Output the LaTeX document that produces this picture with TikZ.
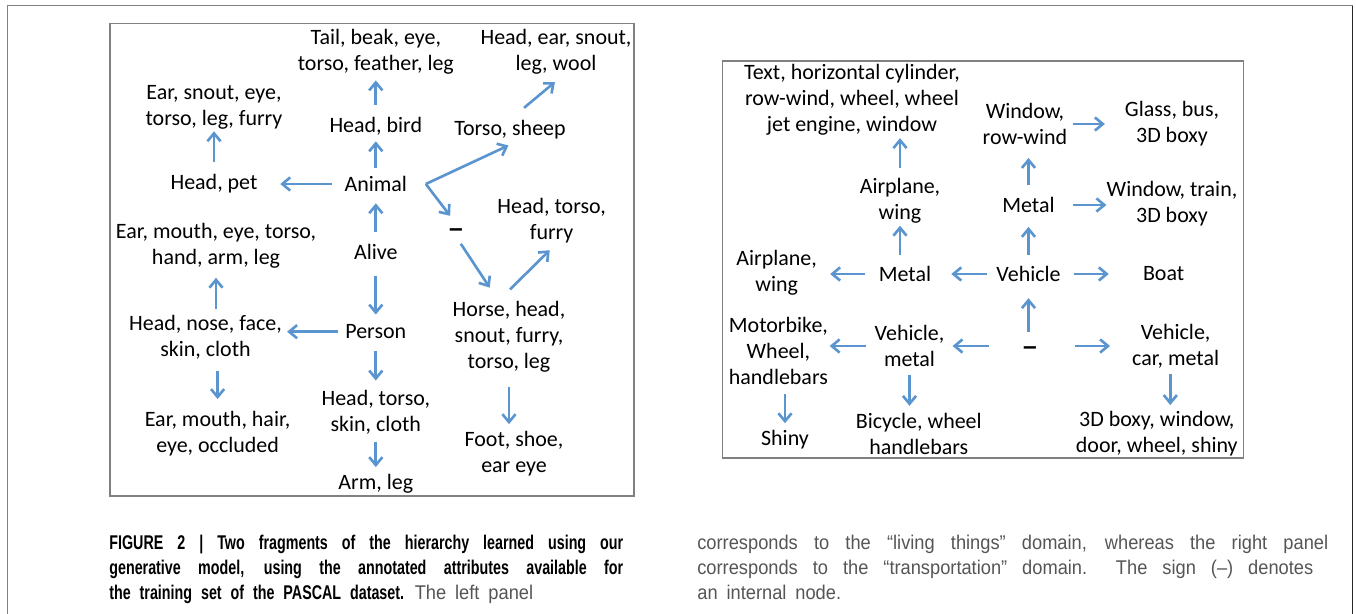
\documentclass[tikz,border=0pt]{standalone}
\usepackage{fontspec}
\setmainfont{Carlito}
\newfontfamily\capfont[FakeStretch=0.92, BoldFeatures={FakeStretch=0.72}]{Liberation Sans}
\newfontfamily\signfont{Liberation Sans}
\usepackage{xcolor}
\usetikzlibrary{arrows.meta}

\definecolor{linkblue}{RGB}{91,149,207}
\definecolor{framegray}{RGB}{128,128,128}
\definecolor{capgray}{RGB}{85,85,85}

\newcommand{\widespaces}{\spaceskip=0.45em plus 0.6em minus 0.05em\relax}

\begin{document}
\begin{tikzpicture}[x=0.02cm, y=-0.02cm,
    attr/.style={align=center, inner sep=0pt, font=\fontsize{12.5}{14.7}\selectfont},
    internal/.style={inner sep=0pt, text height=0.7em, text depth=0pt, font=\signfont\bfseries\fontsize{14}{14}\selectfont},
    link/.style={draw=linkblue, line width=1.5pt, -{Straight Barb[length=4.5pt,width=7.5pt]}, shorten <=6pt, shorten >=4pt},
    panel/.style={draw=framegray, line width=0.9pt},
    caption/.style={inner sep=0pt, anchor=base west, align=justify, font=\fontsize{11.3}{14.2}\selectfont\capfont}]
    \useasboundingbox (0,0) rectangle (1356,614);

    % Page frame
    \draw[framegray, line width=0.6pt] (7.3,614) -- (7.3,5.7) -- (1352.7,5.7);
    \draw[black!85, line width=0.8pt] (1352.7,5.7) -- (1352.7,614);

    % Left panel: living things
    \draw[panel] (110,23.5) rectangle (634,496);

    \node[attr] (tail) at (375.8,51.5) {Tail, beak, eye,\\torso, feather, leg};
    \node[attr] (woolparts) at (556,51.5) {Head, ear, snout,\\leg, wool};
    \node[attr] (petparts) at (214,107) {Ear, snout, eye,\\torso, leg, furry};
    \node[attr] (bird) at (375.8,126.7) {Head, bird};
    \node[attr] (sheep) at (510,129.3) {Torso, sheep};
    \node[attr] (pet) at (214,184) {Head, pet};
    \node[attr] (animal) at (375.8,184) {Animal};
    \node[internal] (inner1) at (456,230) {–};
    \node[attr] (furry) at (551.6,220.5) {Head, torso,\\furry};
    \node[attr] (hand) at (216,245.5) {Ear, mouth, eye, torso,\\hand, arm, leg};
    \node[attr] (alive) at (375.8,252) {Alive};
    \node[attr] (face) at (205.5,337) {Head, nose, face,\\skin, cloth};
    \node[attr] (person) at (375.8,331.7) {Person};
    \node[attr] (horse) at (509,336.5) {Horse, head,\\snout, furry,\\torso, leg};
    \node[attr] (skin) at (375.8,412.5) {Head, torso,\\skin, cloth};
    \node[attr] (hair) at (217.6,434) {Ear, mouth, hair,\\eye, occluded};
    \node[attr] (foot) at (514,454) {Foot, shoe,\\ear eye};
    \node[attr] (armleg) at (375.8,483.3) {Arm, leg};

    % Draw connections
    \draw[link, shorten <=7pt, shorten >=3.5pt] (bird) -- (tail);
    \draw[link, shorten <=7pt, shorten >=1.2pt] (pet) -- (petparts);
    \draw[link, shorten <=4.7pt, shorten >=3pt] (animal) -- (bird);
    \draw[link, shorten <=7pt, shorten >=6.4pt] (alive) -- (animal);
    \draw[link, shorten <=7pt, shorten >=12.8pt] (animal) -- (pet);
    \draw[link, shorten <=0pt, shorten >=8.7pt] ([xshift=10.5pt]animal.east) -- ([xshift=7pt]sheep.south);
    \draw[link, shorten <=0pt, shorten >=5.5pt] ([xshift=10.5pt]animal.east) -- (inner1.north);
    \draw[link, shorten <=10.4pt, shorten >=6.9pt] (sheep.north) -- ([xshift=4.7pt]woolparts.south);
    \draw[link, shorten <=5pt, shorten >=9pt] (inner1.south) -- ([xshift=-6pt]horse.north);
    \draw[link, shorten <=9.2pt, shorten >=5.7pt] ([xshift=-6pt]horse.north) -- ([xshift=3pt]furry.south);
    \draw[link, shorten <=9.2pt, shorten >=5.5pt] (alive) -- (person);
    \draw[link, shorten <=3.9pt, shorten >=2.8pt] (person.west) -- (person.west -| face.east);
    \draw[link, shorten <=3.2pt, shorten >=5.4pt] (face.north -| hand.south) -- (hand.south);
    \draw[link, shorten <=6.8pt, shorten >=7pt] (face.south -| hair.north) -- (hair.north);
    \draw[link, shorten <=7pt, shorten >=5.5pt] (person) -- (skin);
    \draw[link, shorten <=8.2pt, shorten >=4.1pt] (horse.south) -- (horse.south |- foot.north);
    \draw[link, shorten <=4pt, shorten >=3.6pt] (skin) -- (armleg);

    % Right panel: transportation
    \draw[panel] (722.5,61) rectangle (1243.5,458);

    \node[attr] (cylinder) at (852,100) {Text, horizontal cylinder,\\row-wind, wheel, wheel\\jet engine, window};
    \node[attr] (window) at (1025,124) {Window,\\row-wind};
    \node[attr] (glass) at (1172,124) {Glass, bus,\\3D boxy};
    \node[attr] (plane) at (900,200.5) {Airplane,\\wing};
    \node[attr] (metalB) at (1028.5,205) {Metal};
    \node[attr] (train) at (1172,204) {Window, train,\\3D boxy};
    \node[attr] (planeB) at (776.6,273) {Airplane,\\wing};
    \node[attr] (metal) at (905,274) {Metal};
    \node[attr] (vehicle) at (1028.5,274) {Vehicle};
    \node[attr] (boat) at (1163.6,274) {Boat};
    \node[attr] (motorbike) at (778.4,351) {Motorbike,\\Wheel,\\handlebars};
    \node[attr] (vmetal) at (909.5,346) {Vehicle,\\metal};
    \node[internal] (inner2) at (1030,348) {–};
    \node[attr] (car) at (1175.6,346) {Vehicle,\\car, metal};
    \node[attr] (shiny) at (785,440) {Shiny};
    \node[attr] (bicycle) at (918.8,434) {Bicycle, wheel\\handlebars};
    \node[attr] (boxy) at (1156.8,434) {3D boxy, window,\\door, wheel, shiny};

    % Draw connections
    \draw[link, shorten <=5.3pt, shorten >=1.4pt] (plane.north) -- (plane.north |- cylinder.south);
    \draw[link, shorten <=7pt, shorten >=7.4pt] (metalB.north) -- (metalB.north |- window.south);
    \draw[link, shorten <=2.9pt, shorten >=11.2pt] (window) -- (glass);
    \draw[link, shorten <=10.5pt, shorten >=0pt] (metalB.east) -- (metalB.east -| train.west);
    \draw[link, shorten <=6.4pt, shorten >=1.4pt] (metal.north -| plane.south) -- (plane.south);
    \draw[link, shorten <=6.4pt, shorten >=7.9pt] (vehicle) -- (metalB);
    \draw[link, shorten <=7.7pt, shorten >=7.4pt] (metal.west) -- (metal.west -| planeB.east);
    \draw[link, shorten <=5.4pt, shorten >=11.3pt] (vehicle) -- (metal);
    \draw[link, shorten <=7.2pt, shorten >=19.3pt] (vehicle) -- (boat);
    \draw[link, shorten <=5.6pt, shorten >=9.2pt] (inner2.north -| vehicle.south) -- (vehicle.south);
    \draw[link, shorten <=19.3pt, shorten >=4.5pt] (vmetal.east -| inner2.west) -- (vmetal.east);
    \draw[link, shorten <=21.6pt, shorten >=12.4pt] (car.west -| inner2.east) -- (car.west);
    \draw[link, shorten <=5pt, shorten >=0.8pt] (vmetal.west) -- (vmetal.west -| motorbike.east);
    \draw[link, shorten <=4.4pt, shorten >=4.1pt] (vmetal.south) -- (vmetal.south |- bicycle.north);
    \draw[link, shorten <=3.4pt, shorten >=3.6pt] ([xshift=-3pt]car.south) -- ([xshift=-3pt]car.south |- boxy.north);
    \draw[link, shorten <=5.4pt, shorten >=4pt] (motorbike.south -| shiny.north) -- (shiny.north);

    % Caption
    \node[caption, text width=10.28cm] (capleft) at (109,550)
        {\widespaces\textbf{FIGURE 2 | Two fragments of the hierarchy learned using our}\linebreak
         \textbf{generative model, using the annotated attributes available for}\linebreak
         \textbf{the training set of the PASCAL dataset.} {\color{capgray}The left panel}};
    \node[caption, text width=12.62cm, text=capgray] (capright) at (697,550)
        {\widespaces corresponds to the “living things” domain, whereas the right panel\linebreak
         corresponds to the “transportation” domain. The sign (–) denotes\hspace*{8.5pt}\linebreak
         an internal node.};
\end{tikzpicture}
\end{document}
